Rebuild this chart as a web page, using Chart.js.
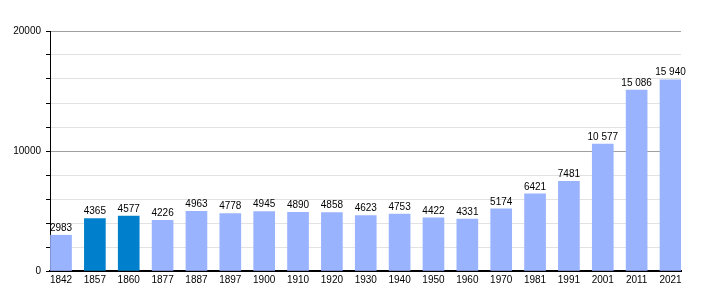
<!DOCTYPE html>
<html>
<head>
<meta charset="utf-8">
<script src="https://cdn.jsdelivr.net/npm/chart.js@4"></script>
<style>
  html, body { margin: 0; padding: 0; background: #ffffff; }
  #wrap { width: 710px; height: 300px; }
</style>
</head>
<body>
<div id="wrap"><canvas id="c" width="710" height="300"></canvas></div>
<script>
const years = ['1842','1857','1860','1877','1887','1897','1900','1910','1920','1930','1940','1950','1960','1970','1981','1991','2001','2011','2021'];
const population = [2983,4365,4577,4226,4963,4778,4945,4890,4858,4623,4753,4422,4331,5174,6421,7481,10577,15086,15940];
const highlightedYears = ['1857','1860'];
const yTickLabels = [0, 10000, 20000];

const FONT = 'Liberation Sans, Arial, sans-serif';

function fmt(v) {
  if (v >= 10000) return String(v).replace(/\B(?=(\d{3})+(?!\d))/g, ' ');
  return String(v);
}

const labelPlugin = {
  id: 'barLabels',
  afterDatasetsDraw(chart) {
    const ctx = chart.ctx;
    const meta = chart.getDatasetMeta(0);
    ctx.save();
    ctx.font = '10px ' + FONT;
    ctx.fillStyle = '#000';
    ctx.textAlign = 'center';
    ctx.textBaseline = 'bottom';
    meta.data.forEach((el, i) => {
      ctx.fillText(fmt(population[i]), el.x, el.y - 2);
    });
    ctx.restore();
  }
};

new Chart(document.getElementById('c'), {
  type: 'bar',
  data: {
    datasets: [{
      data: population.map((v, i) => ({ x: i, y: v })),
      backgroundColor: years.map(y => highlightedYears.includes(y) ? '#0080cc' : '#99b3ff'),
      barThickness: 21,
      borderWidth: 0
    }]
  },
  options: {
    responsive: false,
    animation: false,
    devicePixelRatio: 1,
    layout: { padding: { left: 0, right: 29, top: 31, bottom: 11 } },
    plugins: { legend: { display: false }, tooltip: { enabled: false } },
    scales: {
      x: {
        type: 'linear',
        offset: false,
        min: -0.325,
        max: 18.31,
        afterBuildTicks(scale) { scale.ticks = years.map((_, i) => ({ value: i })); },
        ticks: {
          autoSkip: false,
          maxRotation: 0,
          padding: 3,
          color: '#000',
          font: { family: FONT, size: 10 },
          callback: (v) => years[v]
        },
        grid: { display: false, drawTicks: false, offset: false },
        border: { color: '#000', width: 2 }
      },
      y: {
        min: 0,
        max: 20000,
        afterBuildTicks(scale) {
          const t = [];
          for (let v = 0; v <= 20000; v += 2000) t.push({ value: v });
          scale.ticks = t;
        },
        afterFit(scale) { scale.width = 50; },
        ticks: {
          padding: 5,
          color: '#000',
          font: { family: FONT, size: 10 },
          callback: (v) => yTickLabels.includes(v) ? String(v) : ''
        },
        grid: {
          drawTicks: true,
          tickLength: 4,
          tickColor: '#000',
          color: (c) => (c.tick && c.tick.value % 10000 === 0) ? '#a0a0a0' : '#e2e2e2',
          lineWidth: 1
        },
        border: { color: '#000', width: 1 }
      }
    }
  },
  plugins: [labelPlugin]
});
</script>
</body>
</html>
